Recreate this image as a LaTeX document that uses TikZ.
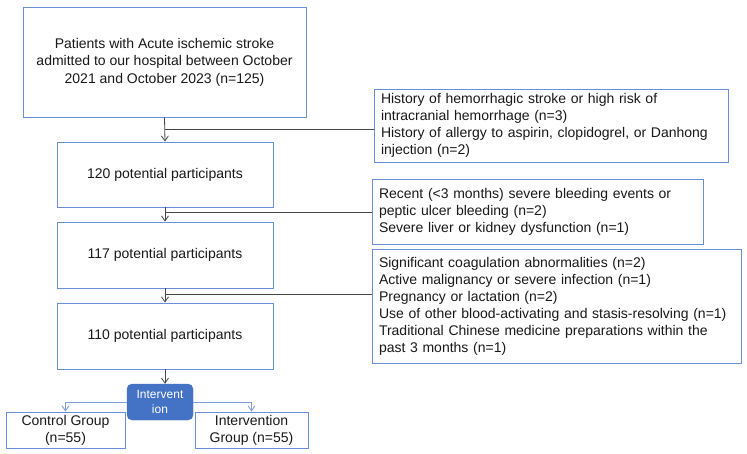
\documentclass[tikz,border=0pt]{standalone}
\usepackage{fontspec}
\setmainfont{Liberation Sans}
\usetikzlibrary{arrows.meta}
\definecolor{boxblue}{RGB}{105,142,218}
\definecolor{fillblue}{RGB}{68,114,196}
\definecolor{lineblue}{RGB}{130,162,222}
\definecolor{conn}{RGB}{70,70,70}
\definecolor{txt}{RGB}{25,25,25}
\tikzset{
  mainbox/.style={draw=boxblue, line width=0.9bp, fill=white, text=txt, align=center,
    inner sep=0pt, font=\fontsize{14bp}{17.5bp}\selectfont},
  exclbox/.style={draw=boxblue, line width=0.9bp, fill=white, text=txt, align=left,
    inner sep=0pt, font=\fontsize{14bp}{17bp}\selectfont},
  intbox/.style={draw=fillblue, fill=fillblue, rounded corners=5bp, text=white, align=center,
    inner sep=0pt, font=\fontsize{12bp}{15bp}\selectfont},
  conline/.style={draw=conn, line width=0.8bp},
  conarrow/.style={conline, -{Straight Barb[length=5bp,width=7bp]}},
  bluearrow/.style={draw=lineblue, line width=0.9bp, -{Straight Barb[length=5bp,width=7bp]}}
}
\begin{document}
\begin{tikzpicture}[x=1bp,y=-1bp]
\useasboundingbox[fill=white] (0,0) rectangle (747,454);
% main column
\node[mainbox, minimum width=283bp, minimum height=110bp] (top) at (164.5,62)
  {Patients with Acute ischemic stroke\\admitted to our hospital between October\\2021 and October 2023 (n=125)};
\node[mainbox, minimum width=216bp, minimum height=65bp] (b120) at (165,174.5) {120 potential participants};
\node[mainbox, minimum width=216bp, minimum height=66bp] (b117) at (165,255) {117 potential participants};
\node[mainbox, minimum width=216bp, minimum height=66bp] (b110) at (165,336) {110 potential participants};
% exclusion boxes
\node[exclbox, minimum width=354bp, minimum height=73bp, text width=340bp] (r1) at (551,125.5)
  {History of hemorrhagic stroke or high risk of\\intracranial hemorrhage (n=3)\\History of allergy to aspirin, clopidogrel, or Danhong\\injection (n=2)};
\node[exclbox, minimum width=331bp, minimum height=65bp, text width=317bp] (r2) at (537.5,211.5)
  {Recent (<3 months) severe bleeding events or\\peptic ulcer bleeding (n=2)\\Severe liver or kidney dysfunction (n=1)};
\node[exclbox, minimum width=369bp, minimum height=114bp, text width=355bp] (r3) at (556.5,306)
  {Significant coagulation abnormalities (n=2)\\Active malignancy or severe infection (n=1)\\Pregnancy or lactation (n=2)\\Use of other blood-activating and stasis-resolving (n=1)\\Traditional Chinese medicine preparations within the\\past 3 months (n=1)};
% intervention
\node[intbox, minimum width=66bp, minimum height=36bp] (int) at (160,402) {Intervent\\ion};
\node[mainbox, minimum width=119bp, minimum height=36bp, font=\fontsize{14bp}{17bp}\selectfont] (ctrl) at (65.5,430) {Control Group\\(n=55)};
\node[mainbox, minimum width=113bp, minimum height=36bp, font=\fontsize{14bp}{17bp}\selectfont] (ig) at (251.5,430) {Intervention\\Group (n=55)};
% connectors
\coordinate (j1) at (165,129);
\coordinate (j2) at (165,212);
\coordinate (j3) at (165,294);
\draw[conarrow] (top.south) -- (b120.north);
\draw[conline] (r1.west |- j1) -- (j1);
\draw[conarrow] (b120.south) -- (b117.north);
\draw[conline] (r2.west |- j2) -- (j2);
\draw[conarrow] (b117.south) -- (b110.north);
\draw[conline] (r3.west |- j3) -- (j3);
\draw[conarrow] (b110.south) -- (b110.south |- int.north);
\draw[bluearrow] (int.west |- 0,402) -- (ctrl.north |- 0,402) -- (ctrl.north);
\draw[bluearrow] (int.east |- 0,402) -- (ig.north |- 0,402) -- (ig.north);
\end{tikzpicture}
\end{document}
